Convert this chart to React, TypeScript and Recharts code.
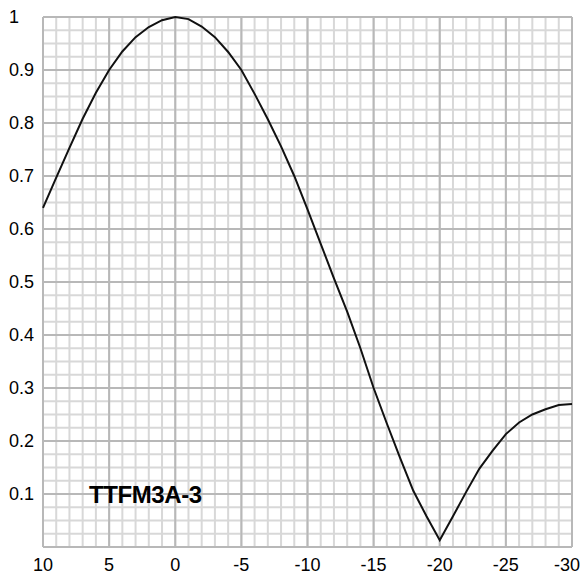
import React from "react";
import { LineChart, Line, XAxis, YAxis, ReferenceLine } from "recharts";

// angle values (left to right, axis runs 10 → -30)
const angles = [
  10, 9, 8, 7, 6, 5, 4, 3, 2, 1, 0, -1, -2, -3, -4, -5, -6, -7, -8, -9, -10,
  -11, -12, -13, -14, -15, -16, -17, -18, -19, -20, -21, -22, -23, -24, -25,
  -26, -27, -28, -29, -30,
];
// relative response
const response = [
  0.64, 0.697, 0.753, 0.808, 0.857, 0.9, 0.935, 0.962, 0.981, 0.994, 1.0, 0.996,
  0.982, 0.962, 0.934, 0.9, 0.855, 0.807, 0.756, 0.7, 0.637, 0.572, 0.507,
  0.444, 0.375, 0.3, 0.233, 0.168, 0.106, 0.058, 0.013, 0.058, 0.104, 0.148, 0.182,
  0.213, 0.235, 0.25, 0.26, 0.268, 0.27,
];
const xTicks = [10, 5, 0, -5, -10, -15, -20, -25, -30];
const yTicks = [0.1, 0.2, 0.3, 0.4, 0.5, 0.6, 0.7, 0.8, 0.9, 1];
const xMinor = angles;
const yMinor = Array.from({ length: 41 }, (_, i) => +(i * 0.025).toFixed(3));
const yMajor = [0, ...yTicks];
const label = "TTFM3A-3";

const data = angles.map((a, i) => ({ angle: a, value: response[i] }));

const FONT = "'Liberation Sans', Arial, sans-serif";
const MINOR = "#d8d8d8";
const MAJOR = "#b8b8b8";

function YTick(props: any) {
  const { y, payload } = props;
  return (
    <text x={9} y={y} dy={6} fontFamily={FONT} fontSize={18} fill="#000" textAnchor="start">
      {String(payload.value)}
    </text>
  );
}

function XTick(props: any) {
  const { x, payload } = props;
  // last label is pulled in so it stays inside the picture
  const last = payload.value === xTicks[xTicks.length - 1];
  return (
    <text
      x={last ? 580 : x}
      y={571}
      fontFamily={FONT}
      fontSize={18}
      fill="#000"
      textAnchor={last ? "end" : "middle"}
    >
      {String(payload.value)}
    </text>
  );
}

export default function App() {
  return (
    <div style={{ position: "absolute", left: 0, top: 0, width: 582, height: 576, background: "#fff" }}>
      <LineChart
        width={582}
        height={576}
        data={data}
        margin={{ top: 17, right: 10, left: 0, bottom: 0 }}
      >
        <XAxis
          dataKey="angle"
          type="number"
          domain={[-30, 10]}
          reversed
          ticks={xTicks}
          interval={0}
          axisLine={false}
          tickLine={false}
          height={29}
          tick={<XTick />}
        />
        <YAxis
          type="number"
          domain={[0, 1]}
          ticks={yTicks}
          interval={0}
          axisLine={false}
          tickLine={false}
          width={43}
          tick={<YTick />}
        />
        {xMinor.map((v) => (
          <ReferenceLine key={`xm${v}`} x={v} stroke={MINOR} strokeWidth={2} />
        ))}
        {yMinor.map((v) => (
          <ReferenceLine key={`ym${v}`} y={v} stroke={MINOR} strokeWidth={2} />
        ))}
        {xTicks.map((v) => (
          <ReferenceLine key={`xM${v}`} x={v} stroke={MAJOR} strokeWidth={2} />
        ))}
        {yMajor.map((v) => (
          <ReferenceLine key={`yM${v}`} y={v} stroke={MAJOR} strokeWidth={2} />
        ))}
        <Line
          dataKey="value"
          type="linear"
          stroke="#111"
          strokeWidth={2}
          dot={false}
          isAnimationActive={false}
        />
      </LineChart>
      <div
        style={{
          position: "absolute",
          left: 89,
          top: 482,
          fontFamily: FONT,
          fontWeight: "bold",
          fontSize: 24,
          letterSpacing: -0.4,
          color: "#000",
          lineHeight: "26px",
        }}
      >
        {label}
      </div>
    </div>
  );
}
